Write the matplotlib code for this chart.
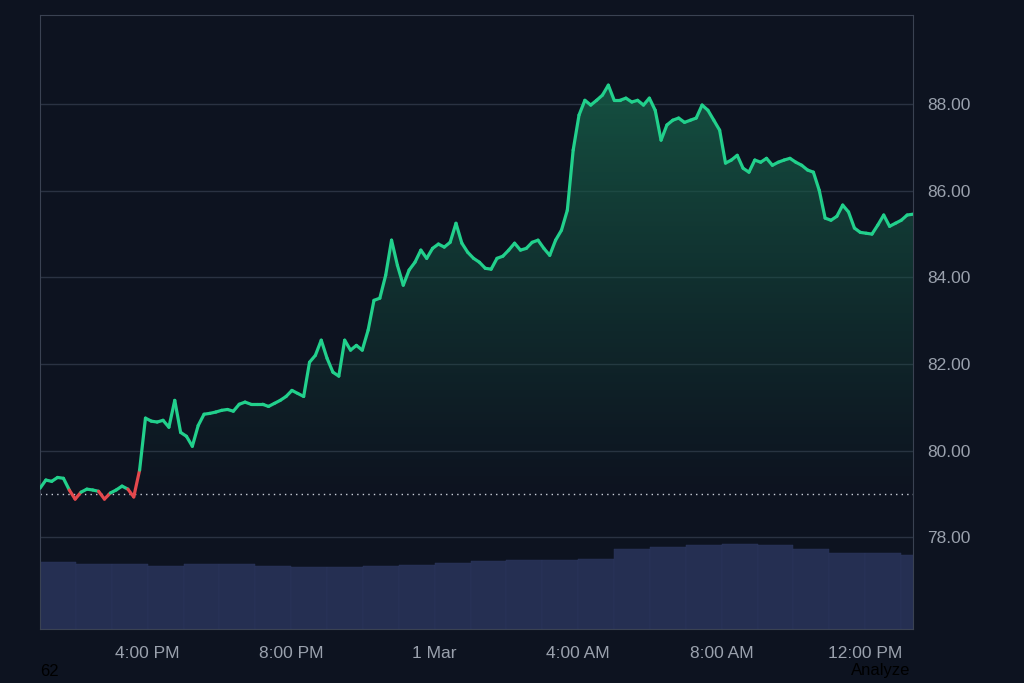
import numpy as np
import matplotlib
matplotlib.use("Agg")
import matplotlib.pyplot as plt
import matplotlib.dates as mdates
from matplotlib.collections import LineCollection
from matplotlib.colors import LinearSegmentedColormap
from matplotlib.patches import PathPatch
import pandas as pd

plt.rcParams['font.family'] = ['Liberation Sans', 'DejaVu Sans']

prices = [79.13,79.32,79.29,79.38,79.36,79.09,78.88,79.04,79.11,79.09,79.06,78.88,79.02,79.09,79.18,79.11,78.93,
          79.55,80.75,80.68,80.66,80.70,80.54,81.16,80.42,80.33,80.10,80.58,80.84,80.86,80.89,80.93,80.95,80.91,
          81.07,81.12,81.07,81.07,81.07,81.02,81.09,81.16,81.25,81.39,81.32,81.25,82.04,82.20,82.55,82.13,81.81,
          81.72,82.55,82.32,82.43,82.32,82.78,83.47,83.52,84.05,84.86,84.28,83.82,84.17,84.35,84.63,84.44,84.67,
          84.77,84.70,84.81,85.25,84.79,84.58,84.44,84.35,84.21,84.19,84.44,84.49,84.63,84.79,84.63,84.67,84.81,
          84.86,84.67,84.51,84.86,85.09,85.55,86.94,87.75,88.09,87.98,88.09,88.21,88.44,88.09,88.09,88.14,88.05,
          88.09,87.98,88.14,87.86,87.17,87.52,87.63,87.68,87.58,87.63,87.68,87.98,87.86,87.63,87.40,86.64,86.71,
          86.82,86.52,86.43,86.71,86.66,86.75,86.59,86.66,86.71,86.75,86.66,86.59,86.48,86.43,86.01,85.37,85.32,
          85.41,85.67,85.51,85.14,85.04,85.02,85.00,85.21,85.44,85.18,85.25,85.32,85.44,85.46]
baseline = 79.0
hourly_volume = [67,65,65,63,65,65,63,62,62,63,64,66,68,69,69,70,80,82,84,85,84,80,76,76,74]
y_ticks = [78, 80, 82, 84, 86, 88]

start = pd.Timestamp("2024-02-29 13:00")
end = pd.Timestamp("2024-03-01 13:20")
times = pd.date_range(start, end, periods=len(prices))
t = mdates.date2num(times)
p = np.array(prices)

BG = "#0d1320"
fig = plt.figure(figsize=(10.24, 6.83), dpi=100, facecolor=BG)
ax = fig.add_axes([40/1024, 54/683, 873/1024, 614/683])
ylo, yhi = 75.88, 90.06

axv = ax.twinx()
axv.set_ylim(0, 614)
axv.set_axis_off()
vt = mdates.date2num(pd.date_range(start, periods=len(hourly_volume), freq="h"))
axv.bar(vt, hourly_volume, width=1/24, align="edge", color="#252f52", edgecolor="#2c3760", linewidth=0.3, zorder=1)
axv.set_xlim(t[0], t[-1])
ax.set_zorder(axv.get_zorder() + 1)
ax.patch.set_visible(False)

for yv in y_ticks:
    ax.axhline(yv, color="#2a3242", lw=1, zorder=0)

grad = np.linspace(0, 1, 256).reshape(-1, 1)
cmap = LinearSegmentedColormap.from_list("g", [(0, (0.08, 0.30, 0.24, 0.0)), (1, (0.09, 0.36, 0.28, 0.85))])
im = ax.imshow(grad, extent=[t[0], t[-1], baseline, p.max()], origin="lower", aspect="auto", cmap=cmap, zorder=1)
verts = np.vstack([np.column_stack([t, np.maximum(p, baseline)]), [[t[-1], baseline], [t[0], baseline]]])
clip = PathPatch(matplotlib.path.Path(verts), transform=ax.transData, facecolor="none", edgecolor="none")
ax.add_patch(clip)
im.set_clip_path(clip)
ax.set_xlim(t[0], t[-1]); ax.set_ylim(ylo, yhi)

pts = np.column_stack([t, p]).reshape(-1, 1, 2)
segs = np.concatenate([pts[:-1], pts[1:]], axis=1)
cols = ["#e5484d" if min(p[i], p[i+1]) < baseline else "#22d08c" for i in range(len(p) - 1)]
ax.add_collection(LineCollection(segs, colors=cols, linewidths=2.3, zorder=3, capstyle="round", joinstyle="round"))
ax.axhline(baseline, color="#c9ced8", lw=1, ls=(0, (1, 3)), zorder=2)

ax.yaxis.tick_right()
ax.set_yticks(y_ticks)
ax.set_yticklabels([f"{v:.2f}" for v in y_ticks])
xt = mdates.date2num(pd.to_datetime(["2024-02-29 16:00", "2024-02-29 20:00", "2024-03-01 00:00",
                                     "2024-03-01 04:00", "2024-03-01 08:00", "2024-03-01 12:00"]))
ax.set_xticks(xt)
ax.set_xticklabels(["4:00 PM", "8:00 PM", "1 Mar", "4:00 AM", "8:00 AM", "12:00 PM"])
ax.tick_params(colors="#9aa1ad", labelsize=12.5, length=0, pad=12)
ax.tick_params(axis="y", pad=10)
for s in ax.spines.values():
    s.set_color("#3a4252")
axv.spines[:].set_visible(False)

fig.text(40/1024, 4/683, "62", color="black", fontsize=12, va="bottom")
fig.text(910/1024, 12/683, "Analyze", color="black", fontsize=12, ha="right", va="center")
fig.savefig("out.png", dpi=100, facecolor=BG)
